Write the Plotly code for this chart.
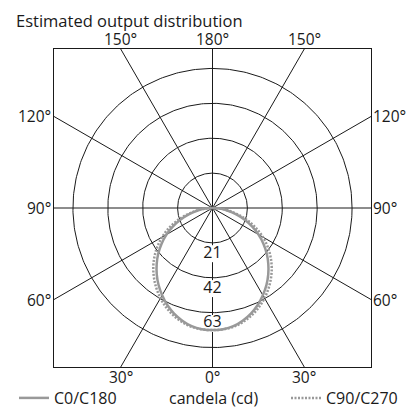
import numpy as np
import plotly.graph_objects as go

# ---- data ----
ANGLES = [0, 5, 10, 15, 20, 25, 30, 35, 40, 45, 50, 55, 60, 65, 70, 75, 80, 85, 90]
C0_C180 = [73.5, 73.2, 72.2, 70.2, 67.6, 64.4, 60.6, 56.6, 52.2, 47.5, 42.6, 37.4,
           32.0, 26.4, 20.6, 14.8, 9.4, 4.4, 0.0]
C90_C270 = [73.5, 73.3, 72.6, 71.0, 68.8, 66.0, 62.6, 58.9, 54.8, 50.4, 45.6, 40.5,
            35.0, 29.2, 23.0, 16.6, 10.4, 4.8, 0.0]
RINGS = [21, 42, 63, 84]
RING_LABELS = ["21", "42", "63"]
SPOKES = [0, 30, 60, 90, 120, 150]
TICK_ANGLES = [0, 30, 60, 90, 120, 150, 180]
TICK_LABELS = ["0°", "30°", "60°", "90°", "120°", "150°", "180°"]
TITLE = "Estimated output distribution"
UNIT = "candela (cd)"

XR = 95.4
YR = 95.7
FONT = "Open Sans"
FS = 15.5
INK = "#1a1a1a"
GRAY = "#999999"
PAGE_OFF = 8  # page body margin offsets the figure

fig = go.Figure()

# rings
t = np.linspace(0, 2 * np.pi, 361)
rx, ry = [], []
for r in RINGS:
    rx += list(r * np.cos(t)) + [None]
    ry += list(r * np.sin(t)) + [None]
fig.add_trace(go.Scatter(x=rx, y=ry, mode="lines", line=dict(color=INK, width=1),
                         hoverinfo="skip", showlegend=False))

# spokes
L = 300
sx, sy = [], []
for a in SPOKES:
    th = np.deg2rad(a)
    sx += [-L * np.sin(th), L * np.sin(th), None]
    sy += [L * np.cos(th), -L * np.cos(th), None]
fig.add_trace(go.Scatter(x=sx, y=sy, mode="lines", line=dict(color=INK, width=1),
                         hoverinfo="skip", showlegend=False))

# ring labels with white boxes behind
lab_y = [-(r + 6.5) for r in RINGS[:len(RING_LABELS)]]
fig.add_trace(go.Scatter(x=[0] * len(RING_LABELS), y=lab_y, mode="markers+text",
                         text=RING_LABELS, textposition="middle center",
                         marker=dict(symbol="square", size=17, color="white"),
                         textfont=dict(family=FONT, size=16, color=INK),
                         hoverinfo="skip", showlegend=False))


def curve(vals):
    th = np.deg2rad(np.array(ANGLES, dtype=float))
    v = np.array(vals, dtype=float)
    xl = -(v * np.sin(th))[::-1]
    yl = -(v * np.cos(th))[::-1]
    xr = v * np.sin(th)
    yr = -(v * np.cos(th))
    return np.concatenate([xl, xr[1:]]), np.concatenate([yl, yr[1:]])


x1, y1 = curve(C0_C180)
x2, y2 = curve(C90_C270)
fig.add_trace(go.Scatter(x=x2, y=y2, mode="lines", name="C90/C270",
                         line=dict(color=GRAY, width=2.5, dash="2px,1.5px", shape="spline"),
                         legend="legend2", hoverinfo="skip"))
fig.add_trace(go.Scatter(x=x1, y=y1, mode="lines", name="C0/C180",
                         line=dict(color=GRAY, width=2.5, shape="spline"),
                         legend="legend", hoverinfo="skip"))

# angle tick labels at box edge
ann = []
for a, lab in zip(TICK_ANGLES, TICK_LABELS):
    th = np.deg2rad(a)
    for sgn in ([1] if a in (0, 180) else [-1, 1]):
        dx, dy = sgn * np.sin(th), -np.cos(th)
        if abs(dy) * XR >= abs(dx) * YR:
            k = YR / abs(dy)
            xh = dx * k
            if dy < 0:
                ann.append(dict(x=xh, y=-YR, xref="x", yref="y", text=lab, showarrow=False,
                                xanchor="center", yanchor="top", yshift=3))
            else:
                ann.append(dict(x=xh, y=YR, xref="x", yref="y", text=lab, showarrow=False,
                                xanchor="center", yanchor="bottom", yshift=-3))
        else:
            k = XR / abs(dx)
            yh = dy * k
            if dx < 0:
                ann.append(dict(x=-XR, y=yh, xref="x", yref="y", text=lab, showarrow=False,
                                xanchor="right", yanchor="middle", xshift=-1))
            else:
                ann.append(dict(x=XR, y=yh, xref="x", yref="y", text=lab, showarrow=False,
                                xanchor="left", yanchor="middle", xshift=0))
for a_ in ann:
    a_["font"] = dict(family=FONT, size=FS, color=INK)

ann.append(dict(x=(213 - 54) / 317, y=(367 - 398) / 318, xref="paper", yref="paper",
                text=UNIT, showarrow=False, xanchor="center", yanchor="middle",
                font=dict(family=FONT, size=16, color=INK)))

W, H = 414 - PAGE_OFF, 411 - PAGE_OFF
fig.update_layout(
    width=W, height=H,
    margin=dict(l=54 - PAGE_OFF, r=43, t=49 - PAGE_OFF, b=44, autoexpand=False),
    paper_bgcolor="white", plot_bgcolor="white",
    title=dict(text=TITLE, x=(16 - PAGE_OFF) / W, xanchor="left", xref="container",
               y=1 - 7 / H, yanchor="top", yref="container",
               pad=dict(l=0, r=0, t=0, b=0),
               font=dict(family=FONT, size=16.5, color=INK)),
    annotations=ann,
    xaxis=dict(range=[-XR, XR], showgrid=False, zeroline=False, showticklabels=False,
               ticks="", showline=True, mirror=True, linecolor=INK, linewidth=1, fixedrange=True),
    yaxis=dict(range=[-YR, YR], showgrid=False, zeroline=False, showticklabels=False,
               ticks="", showline=True, mirror=True, linecolor=INK, linewidth=1, fixedrange=True),
    legend=dict(x=(14 - 54) / 317, xanchor="left", y=(367 - 398) / 318, yanchor="middle",
                orientation="h", font=dict(family=FONT, size=16, color=INK),
                bgcolor="rgba(0,0,0,0)", borderwidth=0),
    legend2=dict(x=(286 - 54) / 317, xanchor="left", y=(367 - 398) / 318, yanchor="middle",
                 orientation="h", font=dict(family=FONT, size=16, color=INK),
                 bgcolor="rgba(0,0,0,0)", borderwidth=0),
    showlegend=True,
)

fig.write_html("out.html")
